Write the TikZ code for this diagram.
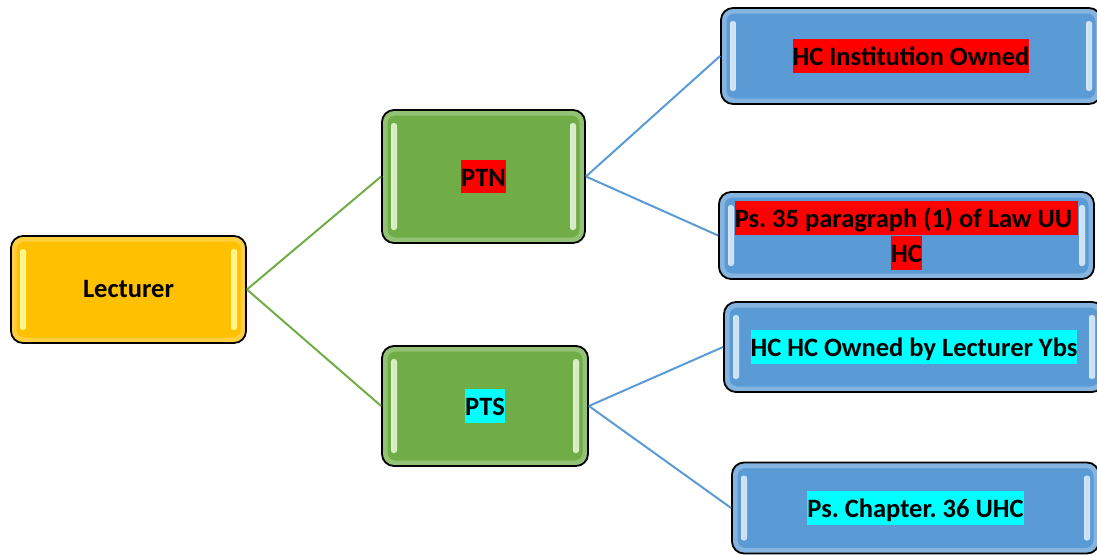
\documentclass[tikz,border=0pt]{standalone}
\usepackage{fontspec}
\setmainfont{Carlito}
\usetikzlibrary{calc}
\frenchspacing

\definecolor{gold}{HTML}{FFC000}
\definecolor{leaf}{HTML}{70AD47}
\definecolor{sky}{HTML}{5B9BD5}
\definecolor{goldglint}{HTML}{FFFF8C}
\definecolor{leafglint}{HTML}{E6F7D6}
\definecolor{skyglint}{HTML}{DDEBF9}
\definecolor{hlcyan}{HTML}{00FFFF}

% text with a tight coloured highlight behind it
\newcommand\hlbox[2]{{\setlength\fboxsep{0pt}\colorbox{#1}{\rule[-0.27em]{0pt}{1.28em}#2}}}

\tikzset{
  glint/.store in=\glintcolor,
  glint=white,
  card/.style={
    draw=black, line width=1.8pt, rounded corners=12pt,
    inner sep=0pt, align=center,
    font=\bfseries\fontsize{26.5}{33}\selectfont,
    path picture={
      \coordinate (pnw) at (path picture bounding box.north west);
      \coordinate (pse) at (path picture bounding box.south east);
      % soft inner glow along the rim
      \draw[white, opacity=0.25, line width=5pt, rounded corners=10pt]
        ($(pnw)+(3,3)$) rectangle ($(pse)+(-3,-3)$);
      % glossy vertical strips near both sides
      \fill[rounded corners=2.5pt, left color=\glintcolor!50!white, right color=\glintcolor!50!white, middle color=\glintcolor, opacity=0.85]
        ($(pnw)+(9,13)$) rectangle ($(pnw |- pse)+(15,-13)$);
      \fill[rounded corners=2.5pt, left color=\glintcolor!50!white, right color=\glintcolor!50!white, middle color=\glintcolor, opacity=0.85]
        ($(pse |- pnw)+(-15,13)$) rectangle ($(pse)+(-9,-13)$);
    }},
  twig/.style={line width=2pt},
}

\begin{document}
\begin{tikzpicture}[x=1pt,y=-1pt]
  \useasboundingbox (0,0) rectangle (1097,554);
  \clip (0,0) rectangle (1097,554);

  % nodes
  \node[card, fill=gold, glint=goldglint, minimum width=235pt, minimum height=107pt]
    (lec) at (128.5,289.5) {Lecturer};
  \node[card, fill=leaf, glint=leafglint, minimum width=203pt, minimum height=133pt]
    (ptn) at (483.5,176.5) {\hlbox{red}{PTN}};
  \node[card, fill=leaf, glint=leafglint, minimum width=206pt, minimum height=120pt]
    (pts) at (485,406) {\hlbox{hlcyan}{PTS}};
  \node[card, fill=sky, glint=skyglint, minimum width=380pt, minimum height=96pt]
    (inst) at (911,56) {\hlbox{red}{HC Institution Owned}};
  \node[card, fill=sky, glint=skyglint, minimum width=375pt, minimum height=87pt]
    (law) at (906.5,235.5) {\hlbox{red}{Ps. 35 paragraph (1) of Law UU }\\\hlbox{red}{HC}};
  \node[card, fill=sky, glint=skyglint, minimum width=380pt, minimum height=90pt]
    (own) at (914,347) {\hlbox{hlcyan}{HC HC Owned by Lecturer Ybs}};
  \node[card, fill=sky, glint=skyglint, minimum width=367pt, minimum height=91pt]
    (chap) at (915.5,508) {\hlbox{hlcyan}{Ps. Chapter. 36 UHC}};

  % connectors
  \draw[twig, leaf] (lec.east) -- (ptn.west);
  \draw[twig, leaf] (lec.east) -- (pts.west);
  \draw[twig, sky] (ptn.east) -- (inst.west);
  \draw[twig, sky] (ptn.east) -- (law.west);
  \draw[twig, sky] (pts.east) -- (own.west);
  \draw[twig, sky] (pts.east) -- (chap.west);
\end{tikzpicture}
\end{document}
